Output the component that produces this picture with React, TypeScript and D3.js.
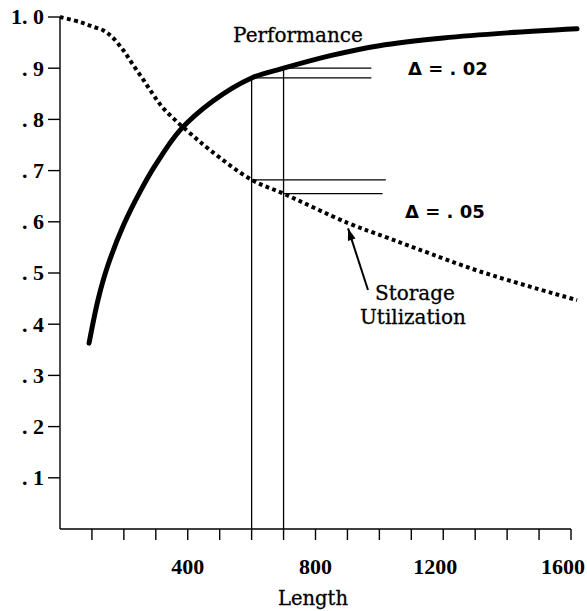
import React from 'react';
import * as d3 from 'd3';

// values: [length, value]
const performance: [number, number][] = [
  [91, 0.363], [120, 0.45], [150, 0.515], [200, 0.595], [250, 0.658], [300, 0.712],
  [376, 0.779], [479, 0.836], [600, 0.881], [700, 0.9], [850, 0.925], [1000, 0.944],
  [1200, 0.959], [1400, 0.969], [1619, 0.977],
];
const storage: [number, number][] = [
  [0, 1.0], [63, 0.99], [103, 0.981], [135, 0.974], [163, 0.961], [197, 0.936],
  [225, 0.91], [257, 0.881], [288, 0.852], [319, 0.825], [360, 0.799], [407, 0.773],
  [470, 0.74], [600, 0.682], [700, 0.655], [900, 0.598], [1020, 0.57], [1120, 0.547],
  [1320, 0.502], [1619, 0.447],
];
const xTicks = d3.range(100, 1700, 100);
const xLabels = [400, 800, 1200, 1600];
const yTicks = [0.1, 0.2, 0.3, 0.4, 0.5, 0.6, 0.7, 0.8, 0.9, 1.0];
const yLabels = ['. 1', '. 2', '. 3', '. 4', '. 5', '. 6', '. 7', '. 8', '. 9', '1. 0'];
const compareAt = [600, 700];
const perfLineEnd = 975;
const storageLineEnd = [1020, 1010];
const deltaLabels = ['Δ = . 02', 'Δ = . 05'];

const App = () => {
  const width = 587, height = 611;
  const x = d3.scaleLinear().domain([0, 1600]).range([60, 571]);
  const y = d3.scaleLinear().domain([0, 1]).range([529, 17]);

  const line = d3.line<[number, number]>()
    .x(d => x(d[0]))
    .y(d => y(d[1]))
    .curve(d3.curveCatmullRom.alpha(0.5));

  const valAt = (data: [number, number][], l: number) =>
    data.find(d => d[0] === l)![1];

  const serif = '"DejaVu Serif", serif';
  const tickFont = '"Liberation Serif", serif';
  const sans = '"DejaVu Sans", sans-serif';

  // arrow pointing at the storage curve
  const tip = [x(905) - 1, y(0.597) + 5];
  const tail = [368, 290];
  const ang = Math.atan2(tip[1] - tail[1], tip[0] - tail[0]);
  const ah = 12, aw = 4;
  const arrowHead = [
    [tip[0], tip[1]],
    [tip[0] - ah * Math.cos(ang) + aw * Math.sin(ang), tip[1] - ah * Math.sin(ang) - aw * Math.cos(ang)],
    [tip[0] - ah * Math.cos(ang) - aw * Math.sin(ang), tip[1] - ah * Math.sin(ang) + aw * Math.cos(ang)],
  ].map(p => p.join(',')).join(' ');

  return (
    <svg width={width} height={height} style={{ position: 'absolute', left: 0, top: 0, background: 'white' }}>
      {/* axes */}
      <g stroke="black" strokeWidth={1.4} fill="none">
        <line x1={x(0)} y1={y(1)} x2={x(0)} y2={y(0)} />
        <line x1={x(0)} y1={y(0)} x2={x(1600)} y2={y(0)} />
        {xTicks.map(t => (
          <line key={t} x1={x(t)} x2={x(t)} y1={y(0)} y2={y(0) + 11} />
        ))}
        {yTicks.map(t => (
          <line key={t} x1={x(0) - 12} x2={x(0)} y1={y(t)} y2={y(t)} />
        ))}
      </g>
      <g fontFamily={tickFont} fontWeight="bold" fontSize={22} fill="black">
        {yTicks.map((t, i) => (
          <text key={t} x={x(0) - 16} y={y(t)} dy="0.34em" textAnchor="end" style={{ whiteSpace: 'pre' }}>{yLabels[i]}</text>
        ))}
        {xLabels.map(t => (
          <text key={t} x={x(t) - (t > 1000 ? 8 : 0)} y={574} textAnchor="middle">{t}</text>
        ))}
      </g>
      <text x={313} y={605} textAnchor="middle" fontFamily={serif} fontSize={19.5} fill="black" stroke="black" strokeWidth={0.3}>Length</text>

      {/* comparison guides */}
      <g stroke="black" strokeWidth={1.3}>
        {compareAt.map((l, i) => (
          <g key={l}>
            <line x1={x(l)} x2={x(l)} y1={y(valAt(performance, l))} y2={y(0)} />
            <line x1={x(l)} x2={x(perfLineEnd)} y1={y(valAt(performance, l))} y2={y(valAt(performance, l))} />
            <line x1={x(l)} x2={x(storageLineEnd[i])} y1={y(valAt(storage, l))} y2={y(valAt(storage, l))} />
          </g>
        ))}
      </g>

      {/* curves */}
      <path d={line(performance) || ''} fill="none" stroke="black" strokeWidth={5} strokeLinecap="round" />
      <path d={line(storage) || ''} fill="none" stroke="black" strokeWidth={4} strokeDasharray="3.8 3.4" />

      {/* labels */}
      <text x={298} y={42} textAnchor="middle" fontFamily={serif} fontSize={20} fill="black" stroke="black" strokeWidth={0.3}>Performance</text>
      <g fontFamily={sans} fontWeight="bold" fontSize={18} fill="black">
        <text x={408} y={75} style={{ whiteSpace: 'pre' }}>{deltaLabels[0]}</text>
        <text x={405} y={218} style={{ whiteSpace: 'pre' }}>{deltaLabels[1]}</text>
      </g>
      <line x1={tail[0]} y1={tail[1]} x2={tip[0]} y2={tip[1]} stroke="black" strokeWidth={2} />
      <polygon points={arrowHead} fill="black" />
      <g fontFamily={serif} fontSize={20} fill="black" stroke="black" strokeWidth={0.3}>
        <text x={375} y={300}>Storage</text>
        <text x={360} y={324}>Utilization</text>
      </g>
    </svg>
  );
};

export default App;
